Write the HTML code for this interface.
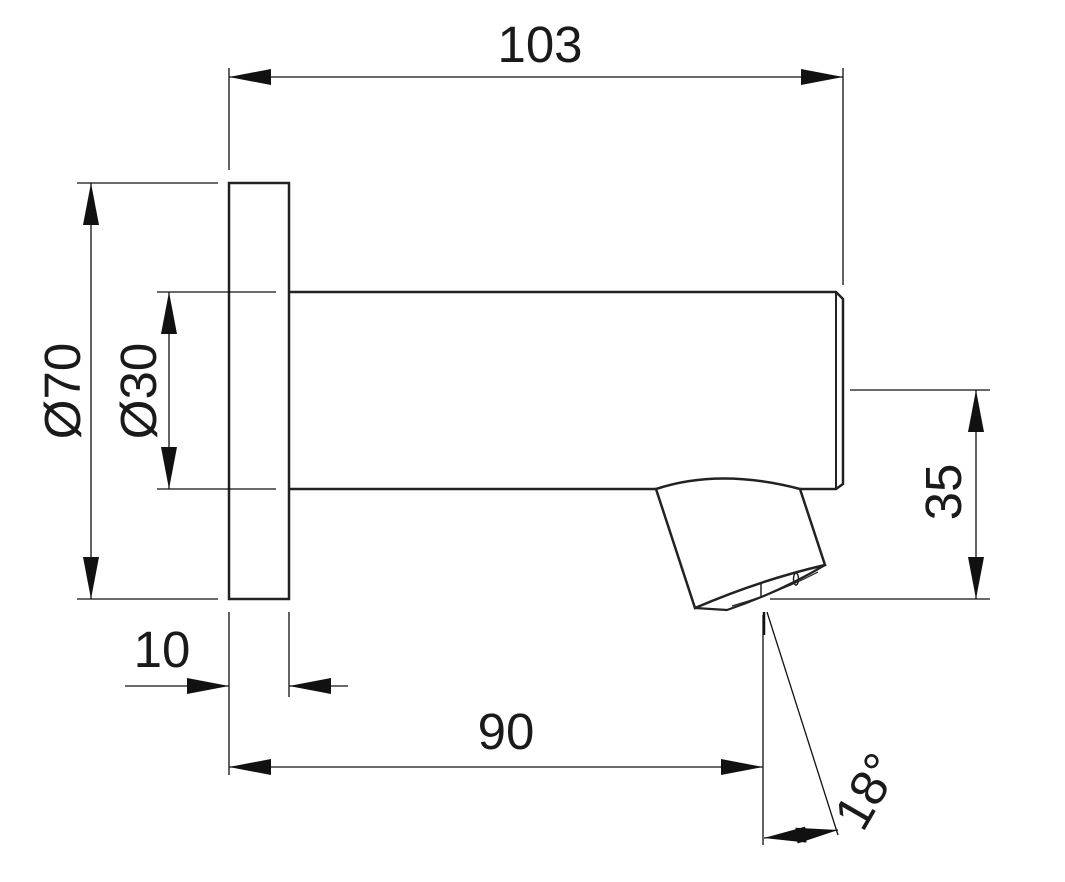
<!DOCTYPE html>
<html><head><style>html,body{margin:0;padding:0;background:#fff}svg{display:block}</style></head>
<body>
<svg width="1065" height="882" viewBox="0 0 1065 882" xmlns="http://www.w3.org/2000/svg" font-family="Liberation Sans, sans-serif">
<defs>
<marker id="a" viewBox="0 0 42 16" refX="42" refY="8" markerWidth="42" markerHeight="16" markerUnits="userSpaceOnUse" orient="auto-start-reverse">
<path d="M0,0 L42,8 L0,16 Z" fill="#111"/>
</marker>
</defs>
<g stroke="#222" fill="none">
<rect x="229" y="183" width="60" height="416" stroke-width="2.5"/>
<path d="M289,292 H836 L843,299 V484 L836,489 H800" stroke-width="2.5"/>
<path d="M836,292 V489" stroke-width="2"/>
<path d="M656,489 H289" stroke-width="2.5"/>
<path d="M656,489 Q720,468 800,489 L825,565 Q760,580 695,608 Z" stroke-width="2.5" fill="#fff"/>
<path d="M695,608 L727,610 Q780,592 825,565" stroke-width="2.2"/>
<path d="M732,606 Q780,592 818,572" stroke-width="1.2"/>
<path d="M761,584 V596" stroke-width="1.5"/>
<ellipse cx="796" cy="579" rx="2.5" ry="6" stroke-width="1.5"/>
</g>
<g stroke="#111" stroke-width="1.3" fill="none">
<line x1="229" y1="68" x2="229" y2="170"/>
<line x1="843" y1="68" x2="843" y2="285"/>
<line x1="229" y1="77" x2="843" y2="77" marker-start="url(#a)" marker-end="url(#a)"/>
<line x1="77" y1="183" x2="218" y2="183"/>
<line x1="77" y1="599" x2="218" y2="599"/>
<line x1="91" y1="183" x2="91" y2="599" marker-start="url(#a)" marker-end="url(#a)"/>
<line x1="157" y1="292" x2="276" y2="292"/>
<line x1="157" y1="489" x2="276" y2="489"/>
<line x1="169" y1="292" x2="169" y2="489" marker-start="url(#a)" marker-end="url(#a)"/>
<line x1="850" y1="390" x2="990" y2="390"/>
<line x1="770" y1="599" x2="990" y2="599"/>
<line x1="976" y1="390" x2="976" y2="599" marker-start="url(#a)" marker-end="url(#a)"/>
<line x1="229" y1="612" x2="229" y2="775"/>
<line x1="289" y1="612" x2="289" y2="697"/>
<line x1="125" y1="686" x2="229" y2="686" marker-end="url(#a)"/>
<line x1="348" y1="686" x2="289" y2="686" marker-end="url(#a)"/>
<line x1="229" y1="767" x2="763" y2="767" marker-start="url(#a)" marker-end="url(#a)"/>
<line x1="763" y1="615" x2="763" y2="845"/>
<line x1="764" y1="612" x2="764" y2="635" stroke-width="2.5"/>
<line x1="767" y1="612" x2="838" y2="835"/>
<line x1="764" y1="838" x2="801" y2="835" marker-start="url(#a)"/>
<line x1="801" y1="835" x2="838" y2="830" marker-end="url(#a)"/>
</g>
<g fill="#1a1a1a" font-size="51">
<text x="540" y="62" text-anchor="middle">103</text>
<text x="162" y="667" text-anchor="middle">10</text>
<text x="506" y="749" text-anchor="middle">90</text>
<text transform="translate(80,391) rotate(-90)" text-anchor="middle">Ø70</text>
<text transform="translate(156,391) rotate(-90)" text-anchor="middle">Ø30</text>
<text transform="translate(961,492) rotate(-90)" text-anchor="middle">35</text>
<text transform="translate(882,800) rotate(-60)" text-anchor="middle">18°</text>
</g>
</svg>
</body></html>
